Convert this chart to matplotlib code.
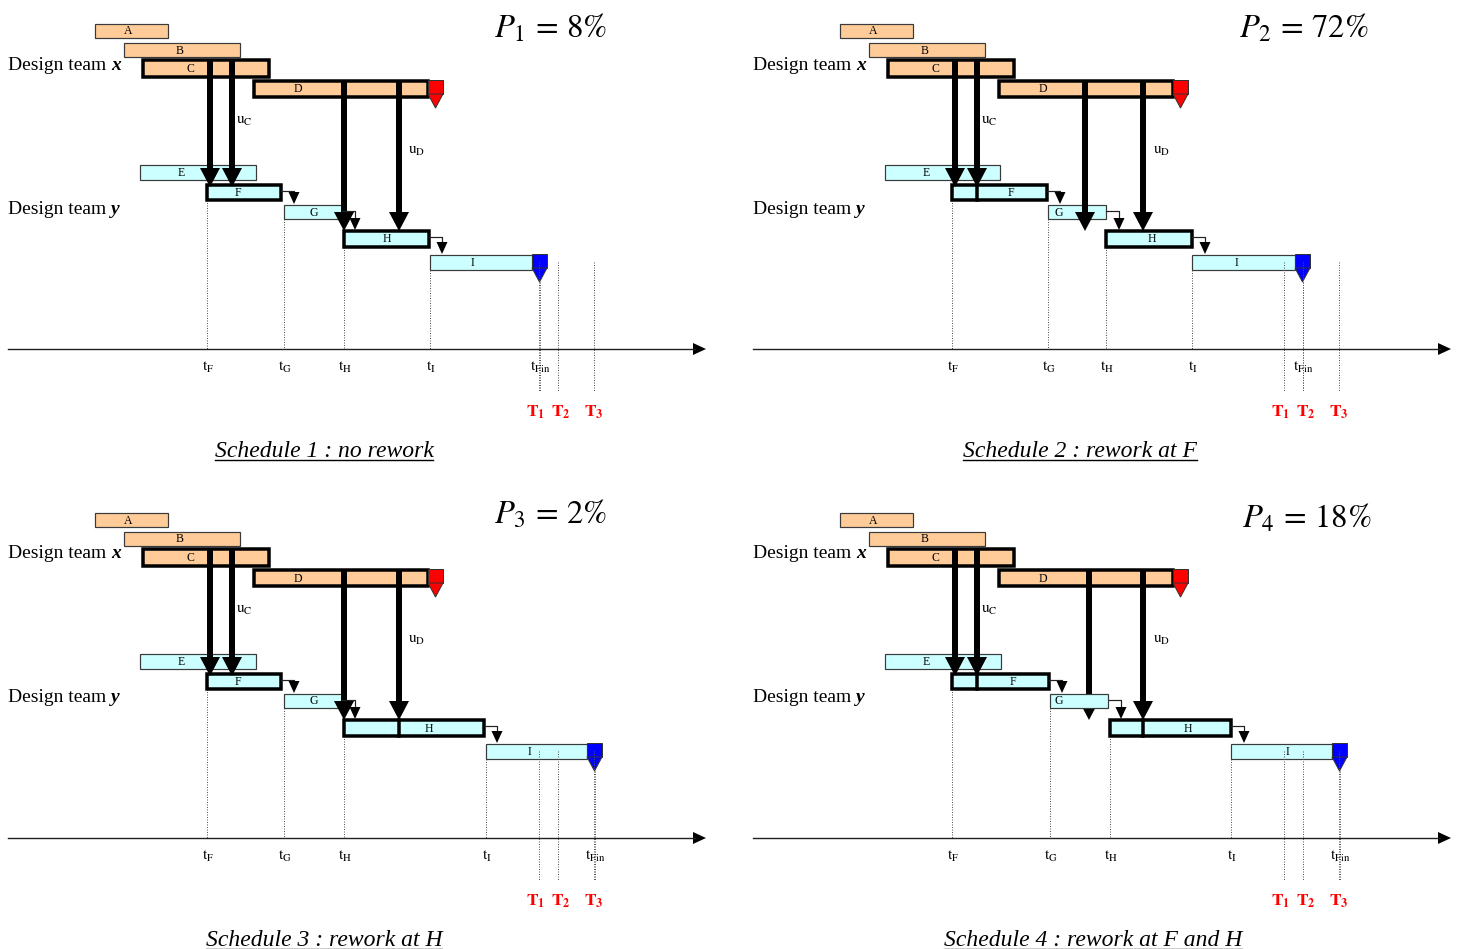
import matplotlib
matplotlib.use("Agg")
import matplotlib.pyplot as plt
from matplotlib.patches import Rectangle, Polygon

plt.rcParams['font.family'] = ['Liberation Serif', 'DejaVu Serif']
plt.rcParams['mathtext.fontset'] = 'stix'

# ---- data (time positions of tasks, same units for every schedule) ----
x_tasks = ['A', 'B', 'C', 'D']          # design team x
x_start = [95, 124, 143, 254]
x_end = [168, 240, 269, 428]

y_tasks = ['E', 'F', 'G', 'H', 'I']     # design team y
sched_start = [
    [140, 207, 284, 344, 430],
    [140, 207, 303, 361, 447],
    [140, 207, 284, 344, 486],
    [140, 207, 305, 365, 486],
]
sched_end = [
    [256, 281, 342, 429, 532],
    [255, 302, 361, 447, 550],
    [256, 281, 342, 484, 587],
    [256, 304, 363, 486, 587],
]
uc_x = [210, 232]                                   # transfers from C
ud_x = [[344, 399], [340, 398], [344, 399], [344, 398]]  # transfers from D
rework_F = [False, True, False, True]
rework_H = [False, False, True, True]
probs = ['1', '2', '3', '4']
prob_vals = ['8', '72', '2', '18']
deadlines = [539, 558, 594]   # T1, T2, T3
titles = ['Schedule 1 : no rework', 'Schedule 2 : rework at F',
          'Schedule 3 : rework at H', 'Schedule 4 : rework at F and H']

# ---- layout ----
W, H = 1458, 949
PW, PH = 713, 460
PT = 0.72
offsets = [(0, 0), (745, 0), (0, 489), (745, 489)]
x_top = [24, 43, 60, 81]
x_h = [14, 14, 17, 16]
x_thick = [False, False, True, True]
x_lab = [128, 180, 190, 298]
y_top = [165, 185, 205, 231, 255]
y_h = [15, 15, 14, 16, 15]
y_thick = [False, True, False, True, False]
y_lab = [[181, 238, 314, 387, 472], [181, 266, 314, 407, 491],
         [181, 238, 314, 429, 529], [181, 268, 314, 443, 542]]
title_x = [324, 335, 324, 348]
p_base = [37, 37, 34, 38]
p_x = [494, 494, 494, 497]
T_lab_dx = [-3, 3, 0]
AXIS_Y = 349

ORANGE = '#FFCC99'
CYAN = '#CCFFFF'
DOT = dict(color='#555555', lw=1 * PT, ls=(0, (1, 1.5)), zorder=1)


def bar(ax, x0, x1, top, h, color, thick, label, lx, z=2):
    ax.add_patch(Rectangle((x0, top), x1 - x0, h, facecolor=color,
                           edgecolor='black' if thick else '#3a3a3a',
                           lw=(3.5 if thick else 1.2) * PT, zorder=z))
    ax.text(lx, top + h / 2 + 0.5, label, ha='center', va='center',
            fontsize=8.5, zorder=z + 0.1)


def big_arrow(ax, x, y0, tip, z=3):
    ax.plot([x, x], [y0, tip - 17], color='black', lw=6 * PT,
            solid_capstyle='butt', zorder=z)
    ax.add_patch(Polygon([(x - 10, tip - 19), (x + 10, tip - 19), (x, tip)],
                         closed=True, fc='black', ec='none', zorder=z))


def small_arrow(ax, x0, y, x1, tip):
    ax.plot([x0, x1, x1], [y, y, tip - 9], color='#222222', lw=1.2 * PT, zorder=3)
    ax.add_patch(Polygon([(x1 - 5.5, tip - 12), (x1 + 5.5, tip - 12), (x1, tip)],
                         closed=True, fc='black', ec='none', zorder=3))


def marker(ax, x0, top, color):
    ax.add_patch(Rectangle((x0, top), 15, 14, fc=color, ec='#333333',
                           lw=1 * PT, zorder=3))
    ax.add_patch(Polygon([(x0, top + 14), (x0 + 15, top + 14), (x0 + 7.5, top + 28)],
                         closed=True, fc=color, ec='#333333', lw=1 * PT, zorder=3))


fig = plt.figure(figsize=(W / 100, H / 100), dpi=100)
renderer = fig.canvas.get_renderer()

for k, (ox, oy) in enumerate(offsets):
    ax = fig.add_axes([ox / W, 1 - (oy + PH) / H, PW / W, PH / H])
    ax.set_xlim(0, PW)
    ax.set_ylim(PH, 0)
    ax.axis('off')

    starts, ends = sched_start[k], sched_end[k]

    # team labels
    for yy, who in [(65, 'x'), (209, 'y')]:
        t = ax.text(8, yy, 'Design team', ha='left', va='center', fontsize=14)
        ax.annotate(who, xy=(1, 0), xycoords=t, xytext=(3.5, 0),
                    textcoords='offset points', ha='left', va='bottom',
                    fontsize=14, fontweight='bold', style='italic')

    # team x
    for i, name in enumerate(x_tasks):
        bar(ax, x_start[i], x_end[i], x_top[i], x_h[i], ORANGE, x_thick[i],
            name, x_lab[i])
    marker(ax, x_end[3], 80, '#FF0000')

    # team y
    for i, name in enumerate(y_tasks):
        z = 4 if (k == 3 and name == 'G') else 2
        bar(ax, starts[i], ends[i], y_top[i], y_h[i], CYAN, y_thick[i],
            name, y_lab[k][i], z=z)
    marker(ax, ends[4], 254, '#0000FF')
    apex = ends[4] + 7.5

    # rework dividers
    if rework_F[k]:
        ax.plot([uc_x[1]] * 2, [y_top[1], y_top[1] + y_h[1]], color='black',
                lw=3.5 * PT, zorder=3)
    if rework_H[k]:
        ax.plot([ud_x[k][1]] * 2, [y_top[3], y_top[3] + y_h[3]], color='black',
                lw=3.5 * PT, zorder=3)

    # information transfers
    for x in uc_x:
        big_arrow(ax, x, x_top[2], y_top[1] + 2)
    for x in ud_x[k]:
        big_arrow(ax, x, x_top[3], y_top[3])
    ax.text(236, 121, r'$\mathrm{u}_{\mathrm{C}}$', ha='left', va='center', fontsize=11)
    ax.text(408, 151, r'$\mathrm{u}_{\mathrm{D}}$', ha='left', va='center', fontsize=11)

    # precedence arrows
    for i in range(1, 4):
        small_arrow(ax, ends[i], y_top[i] + 6, ends[i] + 13, y_top[i + 1] - 1)

    # dotted time markers
    for i in range(1, 5):
        ax.plot([starts[i]] * 2, [y_top[i] + y_h[i], AXIS_Y], **DOT)
    ax.plot([apex] * 2, [282, 392], **DOT)
    for T in deadlines:
        ax.plot([T] * 2, [262, 392], **{**DOT, 'zorder': 5})

    # time axis
    ax.plot([8, 695], [AXIS_Y, AXIS_Y], color='#222222', lw=1.4 * PT, zorder=2)
    ax.add_patch(Polygon([(693, AXIS_Y - 6), (693, AXIS_Y + 6), (706, AXIS_Y)],
                         closed=True, fc='black', ec='none'))
    ticks = [starts[1], starts[2], starts[3], starts[4], apex]
    subs = ['F', 'G', 'H', 'I', 'Fin']
    for x, s in zip(ticks, subs):
        ax.text(x + 1, 367, r'$\mathrm{t}_{\mathrm{%s}}$' % s, ha='center',
                va='center', fontsize=11)
    for j, T in enumerate(deadlines):
        ax.text(T + T_lab_dx[j], 412, r'$\mathbf{T}_{\mathbf{%d}}$' % (j + 1),
                color='#FF0000', ha='center', va='center', fontsize=12.5)

    # probability
    ax.text(p_x[k], p_base[k], r'$P_{%s}\,=\,%s\%%$' % (probs[k], prob_vals[k]),
            ha='left', va='baseline', fontsize=23.5)

    # title with underline
    tt = ax.text(title_x[k], 457, titles[k], ha='center', va='baseline',
                 fontsize=17, style='italic')
    bb = tt.get_window_extent(renderer)
    (x0, _), (x1, _) = ax.transData.inverted().transform([[bb.x0, bb.y0], [bb.x1, bb.y1]])
    ax.plot([x0, x1], [460, 460], color='black', lw=1.4 * PT, clip_on=False)

fig.savefig('out.png', dpi=100)
